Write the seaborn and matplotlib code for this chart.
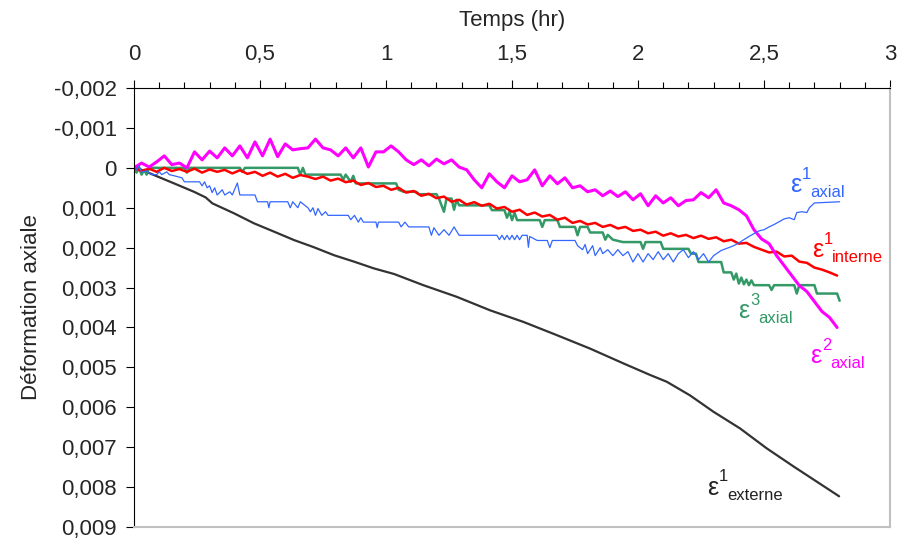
import matplotlib
matplotlib.use('Agg')
import matplotlib.pyplot as plt
from matplotlib.ticker import MultipleLocator, FuncFormatter
import seaborn as sns
import numpy as np

# strain values are in units of 0.001 (multiplied below)
t_ext = [0, 0.079, 0.159, 0.238, 0.284, 0.311, 0.397, 0.476, 0.556, 0.635,
         0.714, 0.794, 0.873, 0.952, 1.032, 1.148, 1.28, 1.413, 1.545, 1.677,
         1.81, 1.942, 2.048, 2.114, 2.206, 2.299, 2.405, 2.511, 2.619, 2.711, 2.798]
eps_ext = [-0.03, 0.18, 0.39, 0.6, 0.74, 0.89, 1.14, 1.39, 1.6, 1.81,
           1.99, 2.19, 2.35, 2.52, 2.66, 2.94, 3.23, 3.57, 3.86, 4.19,
           4.53, 4.9, 5.19, 5.36, 5.7, 6.11, 6.53, 7.03, 7.49, 7.87, 8.23]

t_a1 = [0, 0.01, 0.02, 0.03, 0.05, 0.07, 0.09, 0.1, 0.11, 0.13,
        0.14, 0.16, 0.19, 0.2, 0.26, 0.27, 0.28, 0.29, 0.3, 0.31,
        0.32, 0.33, 0.35, 0.36, 0.38, 0.39, 0.41, 0.42, 0.48, 0.49,
        0.53, 0.535, 0.54, 0.61, 0.62, 0.63, 0.65, 0.66, 0.69, 0.7,
        0.71, 0.72, 0.73, 0.745, 0.76, 0.77, 0.85, 0.86, 0.875, 0.89,
        0.9, 0.91, 0.96, 0.965, 0.97, 1.05, 1.06, 1.075, 1.09, 1.17,
        1.18, 1.19, 1.21, 1.23, 1.25, 1.27, 1.29, 1.31, 1.44, 1.45,
        1.46, 1.47, 1.48, 1.49, 1.5, 1.51, 1.52, 1.53, 1.54, 1.56,
        1.565, 1.57, 1.6, 1.64, 1.65, 1.66, 1.75, 1.76, 1.78, 1.79,
        1.8, 1.82, 1.83, 1.85, 1.86, 1.88, 1.9, 1.92, 1.94, 1.96,
        1.98, 2.0, 2.02, 2.04, 2.06, 2.08, 2.1, 2.12, 2.14, 2.16,
        2.18, 2.2, 2.22, 2.24, 2.26, 2.28, 2.3, 2.33, 2.36, 2.38,
        2.4, 2.42, 2.44, 2.46, 2.48, 2.5, 2.52, 2.54, 2.56, 2.58,
        2.6, 2.62, 2.63, 2.65, 2.67, 2.68, 2.7, 2.8]
eps_a1 = [-0.1, 0.05, -0.05, 0.1, 0.08, 0.17, 0.17, 0.1, 0.17, 0.1,
          0.17, 0.2, 0.25, 0.35, 0.35, 0.45, 0.35, 0.5, 0.45, 0.62,
          0.5, 0.68, 0.55, 0.68, 0.6, 0.68, 0.38, 0.68, 0.68, 0.85,
          0.85, 1.0, 0.85, 0.85, 1.0, 0.85, 1.0, 0.85, 1.0, 1.1,
          1.0, 1.19, 1.02, 1.19, 1.1, 1.19, 1.19, 1.3, 1.19, 1.36,
          1.25, 1.36, 1.36, 1.5, 1.36, 1.36, 1.48, 1.36, 1.48, 1.48,
          1.69, 1.5, 1.69, 1.55, 1.69, 1.48, 1.69, 1.69, 1.69, 1.8,
          1.69, 1.8, 1.69, 1.8, 1.69, 1.8, 1.69, 1.8, 1.69, 1.69,
          1.99, 1.72, 1.82, 1.82, 2.0, 1.82, 1.82, 1.95, 2.05, 1.92,
          2.15, 1.95, 2.2, 2.0, 2.15, 2.05, 2.2, 2.05, 2.2, 2.1,
          2.36, 2.15, 2.36, 2.15, 2.3, 2.1, 2.3, 2.15, 2.36, 2.15,
          2.05, 2.25, 2.1, 2.3, 2.15, 2.36, 2.2, 2.07, 2.0, 1.95,
          1.88, 1.8, 1.72, 1.65, 1.58, 1.55, 1.48, 1.42, 1.35, 1.28,
          1.25, 1.3, 1.12, 1.1, 1.12, 1.0, 0.88, 0.85]

t_a3 = [0, 0.01, 0.02, 0.03, 0.04, 0.05, 0.06, 0.2, 0.21, 0.22,
        0.42, 0.43, 0.44, 0.65, 0.66, 0.67, 0.68, 0.82, 0.83, 0.84,
        0.86, 0.87, 0.88, 1.04, 1.05, 1.07, 1.12, 1.13, 1.2, 1.21,
        1.23, 1.24, 1.26, 1.27, 1.28, 1.29, 1.41, 1.42, 1.47, 1.48,
        1.49, 1.5, 1.51, 1.52, 1.61, 1.62, 1.63, 1.68, 1.69, 1.75,
        1.76, 1.77, 1.8, 1.81, 1.86, 1.87, 1.88, 1.9, 1.94, 2.01,
        2.02, 2.03, 2.09, 2.1, 2.2, 2.21, 2.23, 2.24, 2.33, 2.34,
        2.37, 2.38, 2.39, 2.4, 2.41, 2.42, 2.43, 2.44, 2.45, 2.46,
        2.52, 2.53, 2.54, 2.62, 2.63, 2.64, 2.7, 2.71, 2.79, 2.8]
eps_a3 = [0.0, 0.12, 0.0, 0.17, 0.05, 0.17, 0.0, 0.0, 0.12, 0.0,
          0.0, 0.1, 0.0, 0.0, 0.17, 0.0, 0.17, 0.17, 0.3, 0.17,
          0.35, 0.2, 0.39, 0.39, 0.55, 0.6, 0.6, 0.66, 0.66, 0.77,
          1.1, 0.77, 0.77, 1.05, 0.8, 0.94, 0.94, 1.06, 1.06, 1.25,
          1.1, 1.31, 1.12, 1.31, 1.31, 1.48, 1.31, 1.31, 1.48, 1.48,
          1.69, 1.48, 1.48, 1.62, 1.62, 1.8, 1.68, 1.8, 1.86, 1.86,
          2.03, 1.86, 1.86, 2.03, 2.03, 2.15, 2.15, 2.36, 2.36, 2.62,
          2.62, 2.8, 2.65, 2.9, 2.75, 2.92, 2.8, 2.94, 2.82, 2.94,
          2.94, 3.06, 2.94, 2.94, 3.15, 2.94, 2.94, 3.15, 3.15, 3.33]

t_fine = [0, 0.03, 0.06, 0.09, 0.12, 0.15, 0.18, 0.21, 0.24, 0.27,
          0.3, 0.33, 0.36, 0.39, 0.42, 0.45, 0.48, 0.51, 0.54, 0.57,
          0.6, 0.63, 0.66, 0.69, 0.72, 0.75, 0.78, 0.81, 0.84, 0.87,
          0.9, 0.93, 0.96, 0.99, 1.02, 1.05, 1.08, 1.11, 1.14, 1.17,
          1.2, 1.23, 1.26, 1.29, 1.32, 1.35, 1.38, 1.41, 1.44, 1.47,
          1.5, 1.53, 1.56, 1.59, 1.62, 1.65, 1.68, 1.71, 1.74, 1.77,
          1.8, 1.83, 1.86, 1.89, 1.92, 1.95, 1.98, 2.01, 2.04, 2.07,
          2.1, 2.13, 2.16, 2.19, 2.22, 2.25, 2.28, 2.31, 2.34, 2.37,
          2.4, 2.43, 2.46, 2.49, 2.52, 2.55, 2.58, 2.61, 2.64, 2.67,
          2.7, 2.73, 2.76, 2.79]
eps_int = [0.0, 0.08, 0.02, 0.1, 0.0, 0.08, 0.03, 0.1, 0.02, 0.12,
           0.04, 0.1, 0.05, 0.14, 0.06, 0.15, 0.1, 0.2, 0.12, 0.22,
           0.15, 0.25, 0.18, 0.22, 0.28, 0.22, 0.32, 0.27, 0.36, 0.32,
           0.43, 0.38, 0.48, 0.45, 0.55, 0.5, 0.62, 0.58, 0.7, 0.65,
           0.76, 0.72, 0.85, 0.8, 0.92, 0.86, 0.95, 0.9, 1.02, 0.98,
           1.1, 1.05, 1.18, 1.12, 1.22, 1.18, 1.3, 1.25, 1.38, 1.33,
           1.42, 1.38, 1.48, 1.43, 1.52, 1.48, 1.58, 1.55, 1.64, 1.6,
           1.7, 1.64, 1.72, 1.68, 1.76, 1.7, 1.78, 1.74, 1.84, 1.8,
           1.9, 1.88, 1.98, 2.05, 2.12, 2.1, 2.22, 2.2, 2.35, 2.38,
           2.5, 2.55, 2.62, 2.7]
eps_a2 = [0.0, -0.12, -0.02, -0.15, -0.3, -0.08, -0.12, 0.0, -0.4, -0.2,
          -0.42, -0.25, -0.5, -0.3, -0.55, -0.25, -0.65, -0.3, -0.72, -0.28,
          -0.6, -0.45, -0.48, -0.5, -0.72, -0.5, -0.45, -0.3, -0.5, -0.25,
          -0.5, -0.02, -0.4, -0.4, -0.55, -0.4, -0.2, -0.08, -0.2, -0.05,
          -0.22, -0.1, -0.2, -0.02, 0.05, 0.3, 0.5, 0.15, 0.35, 0.5,
          0.2, 0.35, 0.3, 0.05, 0.45, 0.2, 0.4, 0.25, 0.5, 0.45,
          0.6, 0.55, 0.7, 0.58, 0.72, 0.6, 0.8, 0.65, 0.95, 0.7,
          0.88, 0.75, 0.95, 0.82, 0.8, 0.62, 0.75, 0.55, 0.88, 0.95,
          1.05, 1.2, 1.55, 1.78, 1.9, 2.2, 2.45, 2.7, 2.95, 3.1,
          3.35, 3.6, 3.75, 4.0]

series = [
    (t_ext, eps_ext, '#333333', 1.6),
    (t_a3, eps_a3, '#339966', 1.8),
    (t_fine, eps_int, '#ff0000', 1.8),
    (t_fine, eps_a2, '#ff00ff', 2.2),
    (t_a1, eps_a1, '#3366ff', 0.9),
]

# label: superscript, subscript, position of the epsilon, colour
labels = [
    ('1', 'axial', 2.603, 0.607, '#3366ff'),
    ('1', 'interne', 2.690, 2.236, '#ff0000'),
    ('3', 'axial', 2.397, 3.764, '#339966'),
    ('2', 'axial', 2.683, 4.892, '#ff00ff'),
    ('1', 'externe', 2.274, 8.195, '#222222'),
]

sns.set_theme(style='white')
plt.rcParams['font.family'] = ['Liberation Sans', 'DejaVu Sans']

fig = plt.figure(figsize=(9.08, 5.44), dpi=100)
ax = fig.add_axes([0.1476, 0.0312, 0.8326, 0.807])

for t, e, c, lw in series:
    sns.lineplot(x=t, y=np.array(e) * 1e-3, ax=ax, color=c, linewidth=lw,
                 sort=False, estimator=None)

for sup, sub, t, e, c in labels:
    ax.text(t, e * 1e-3, 'ε', color=c, fontsize=18, ha='left', va='baseline')
    ax.annotate(sup, (t, e * 1e-3), xytext=(8.6, 9.7), textcoords='offset points',
                color=c, fontsize=12, ha='left', va='baseline')
    ax.annotate(sub, (t, e * 1e-3), xytext=(14.4, -3.6), textcoords='offset points',
                color=c, fontsize=12, ha='left', va='baseline')

ax.set_xlim(0, 3)
ax.set_ylim(0.009, -0.002)
ax.xaxis.set_major_locator(MultipleLocator(0.5))
ax.xaxis.set_minor_locator(MultipleLocator(0.1))
ax.yaxis.set_major_locator(MultipleLocator(0.001))
ax.xaxis.set_major_formatter(FuncFormatter(lambda v, p: ('%g' % round(v, 2)).replace('.', ',')))
ax.yaxis.set_major_formatter(FuncFormatter(lambda v, p: ('%g' % round(v, 4)).replace('.', ',')))

ax.tick_params(axis='x', which='both', top=True, bottom=False, labeltop=True,
               labelbottom=False, direction='out', color='black', width=0.8)
ax.tick_params(axis='x', which='major', length=5.5, pad=11, labelsize=16)
ax.tick_params(axis='x', which='minor', length=4.5)
ax.tick_params(axis='y', which='major', left=True, direction='out', length=5.5,
               pad=7, labelsize=16, color='black', width=0.8)

ax.xaxis.set_label_position('top')
ax.set_xlabel('Temps (hr)', fontsize=16)
ax.xaxis.set_label_coords(0.5, 1.141)
ax.set_ylabel('Déformation axiale', fontsize=16)
ax.yaxis.set_label_coords(-0.122, 0.5)

ax.grid(False)
for side in ['left', 'top']:
    ax.spines[side].set_color('black')
    ax.spines[side].set_linewidth(0.8)
for side in ['right', 'bottom']:
    ax.spines[side].set_color('#c0c0c0')
    ax.spines[side].set_linewidth(1.5)

fig.savefig('out.png', dpi=100)
